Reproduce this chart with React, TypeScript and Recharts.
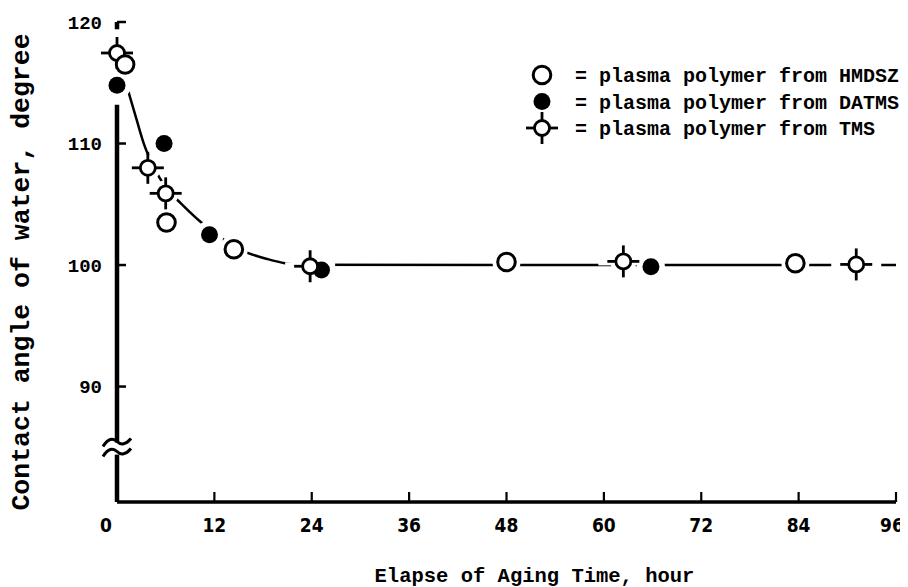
import {
  ComposedChart,
  Legend,
  Line,
  ReferenceDot,
  ReferenceLine,
  Scatter,
  XAxis,
  YAxis,
} from "recharts";

// smooth fitted curve drawn through the points (hours, degree)
const fitHours = [1.35, 2.4, 3.4, 4.5, 6, 8, 10.4, 12.5, 14.5, 16.1, 18.5, 20.7, 23, 96];
const fitAngle = [114.4, 112.0, 109.8, 108.1, 106.4, 105.0, 103.5, 102.4, 101.5, 101.0, 100.5, 100.15, 100.02, 100];

const hmdszHours = [1, 6.1, 14.4, 48, 83.6];
const hmdszAngle = [116.5, 103.5, 101.3, 100.25, 100.15];

const datmsHours = [0, 5.8, 11.4, 25.2, 65.8];
const datmsAngle = [114.8, 110.0, 102.5, 99.6, 99.85];

const tmsHours = [0, 3.8, 6, 23.8, 62.4, 91.1];
const tmsAngle = [117.45, 108.0, 105.9, 99.9, 100.3, 100.05];

const xTicks = [0, 12, 24, 36, 48, 60, 72, 84, 96];
const yTicks = [90, 100, 110, 120];

const yMin = 80.5;
const yMax = 120;
const yBreak = 84.9;

const MONO = "'Liberation Mono', 'Courier New', monospace";
const NARROW = "'Liberation Sans Narrow', 'DejaVu Sans Condensed', 'Liberation Sans', sans-serif";

const toPoints = (hours: number[], angle: number[]) =>
  hours.map((h, i) => ({ h, v: angle[i] }));

const fitData = toPoints(fitHours, fitAngle);
const hmdszData = toPoints(hmdszHours, hmdszAngle);
const datmsData = toPoints(datmsHours, datmsAngle);
const tmsData = toPoints(tmsHours, tmsAngle);

const OpenDot = ({ cx, cy }: any) => (
  <circle cx={cx} cy={cy} r={8.8} fill="#fff" stroke="#000" strokeWidth={3} />
);

const FilledDot = ({ cx, cy }: any) => <circle cx={cx} cy={cy} r={8.5} fill="#000" />;

const CrossDot = ({ cx, cy }: any) => (
  <g stroke="#000" strokeWidth={2.8}>
    <line x1={cx - 16} x2={cx - 7} y1={cy} y2={cy} />
    <line x1={cx + 7} x2={cx + 16} y1={cy} y2={cy} />
    <line x1={cx} x2={cx} y1={cy - 16} y2={cy - 7} />
    <line x1={cx} x2={cx} y1={cy + 7} y2={cy + 16} />
    <circle cx={cx} cy={cy} r={7.5} fill="#fff" />
  </g>
);

const Halo = ({ cx, cy }: any) => <circle cx={cx} cy={cy} r={14} fill="#fff" />;

const CrossHalo = ({ cx, cy }: any) => (
  <g fill="#fff">
    <circle cx={cx} cy={cy} r={13} />
    <rect x={cx - 25} y={cy - 4} width={50} height={8} />
  </g>
);

const BreakMark = ({ cx, cy }: any) => (
  <g fill="none" stroke="#000" strokeWidth={3}>
    <path d={`M${cx - 14},${cy - 2} C${cx - 9},${cy - 10} ${cx - 4},${cy - 11} ${cx},${cy - 7} C${cx + 4},${cy - 3} ${cx + 9},${cy - 4} ${cx + 14},${cy - 10}`} />
    <path d={`M${cx - 14},${cy + 8} C${cx - 9},${cy} ${cx - 4},${cy - 1} ${cx},${cy + 3} C${cx + 4},${cy + 7} ${cx + 9},${cy + 6} ${cx + 14},${cy}`} />
  </g>
);

const YTick = ({ x, y, payload }: any) => (
  <g>
    <line x1={x} x2={x + 9} y1={y} y2={y} stroke="#000" strokeWidth={2.5} />
    <text
      x={x - 15}
      y={y}
      dy="0.35em"
      textAnchor="end"
      fontFamily={MONO}
      fontWeight="bold"
      fontSize={19}
      fill="#000"
    >
      {payload.value}
    </text>
  </g>
);

const XTick = ({ x, y, payload }: any) => {
  const shift = payload.value === 0 ? -11 : payload.value === 96 ? -4 : 0;
  return (
    <g>
      {payload.value !== 0 && (
        <line x1={x} x2={x} y1={y} y2={y - 10} stroke="#000" strokeWidth={2.2} />
      )}
      <text
        x={x + shift}
        y={y + 23}
        dy="0.35em"
        textAnchor="middle"
        fontFamily={NARROW}
        fontWeight="bold"
        fontSize={19}
        fill="#000"
      >
        {payload.value}
      </text>
    </g>
  );
};

const YTitle = () => (
  <text
    x={14}
    y={264}
    transform="rotate(-90, 14, 264)"
    textAnchor="middle"
    dominantBaseline="central"
    fontFamily={MONO}
    fontWeight="bold"
    fontSize={26.5}
    fill="#000"
  >
    Contact angle of water, degree
  </text>
);

const legendRows = [
  { name: "= plasma polymer from HMDSZ", Shape: OpenDot },
  { name: "= plasma polymer from DATMS", Shape: FilledDot },
  { name: "= plasma polymer from TMS", Shape: CrossDot },
];

const LegendBox = () => (
  <svg width={400} height={95}>
    {legendRows.map(({ name, Shape }, i) => (
      <g key={name}>
        <Shape cx={34} cy={17 + i * 26.5} />
        <text
          x={67}
          y={17 + i * 26.5}
          dy="0.35em"
          fontFamily={MONO}
          fontWeight="bold"
          fontSize={20}
          fill="#000"
        >
          {name}
        </text>
      </g>
    ))}
  </svg>
);

export default function App() {
  return (
    <ComposedChart
      width={900}
      height={579}
      data={fitData}
      margin={{ top: 14, right: 12, left: 9, bottom: 45 }}
    >
      <XAxis
        dataKey="h"
        type="number"
        domain={[0, 96]}
        ticks={xTicks}
        interval={0}
        height={40}
        tickSize={0}
        tickMargin={0}
        tickLine={false}
        axisLine={{ stroke: "#000", strokeWidth: 3.5 }}
        tick={<XTick />}
        label={{
          value: "Elapse of Aging Time, hour",
          position: "bottom",
          offset: 25,
          dx: 28,
          style: { fontFamily: MONO, fontWeight: "bold", fontSize: 20.5, fill: "#000" },
        }}
      />
      <YAxis
        dataKey="v"
        type="number"
        domain={[yMin, yMax]}
        ticks={yTicks}
        interval={0}
        width={100}
        tickSize={0}
        tickMargin={0}
        tickLine={false}
        axisLine={false}
        tick={<YTick />}
        label={{ content: () => <YTitle /> }}
      />
      <ReferenceLine
        segment={[{ x: 0, y: yMin }, { x: 0, y: yBreak - 0.5 }]}
        stroke="#000"
        strokeWidth={4.5}
      />
      <ReferenceLine
        segment={[{ x: 0, y: yBreak + 0.5 }, { x: 0, y: 113.2 }]}
        stroke="#000"
        strokeWidth={4.5}
      />
      <ReferenceLine
        segment={[{ x: 0, y: 119.4 }, { x: 0, y: yMax }]}
        stroke="#000"
        strokeWidth={4.5}
      />
      <ReferenceDot x={0} y={yBreak} shape={(p: any) => <BreakMark {...p} />} />
      <Line
        dataKey="v"
        type="monotone"
        stroke="#000"
        strokeWidth={2.5}
        dot={false}
        activeDot={false}
        isAnimationActive={false}
      />
      <Scatter data={datmsData} shape={(p: any) => <Halo {...p} />} isAnimationActive={false} />
      <Scatter data={tmsData} shape={(p: any) => <CrossHalo {...p} />} isAnimationActive={false} />
      <Scatter data={hmdszData} shape={(p: any) => <Halo {...p} />} isAnimationActive={false} />
      <Scatter data={datmsData} shape={(p: any) => <FilledDot {...p} />} isAnimationActive={false} />
      <Scatter data={tmsData} shape={(p: any) => <CrossDot {...p} />} isAnimationActive={false} />
      <Scatter data={hmdszData} shape={(p: any) => <OpenDot {...p} />} isAnimationActive={false} />
      <Legend
        layout="vertical"
        align="center"
        verticalAlign="middle"
        wrapperStyle={{ left: 500, top: 50, width: 400, height: 95 }}
        content={() => <LegendBox />}
      />
    </ComposedChart>
  );
}
